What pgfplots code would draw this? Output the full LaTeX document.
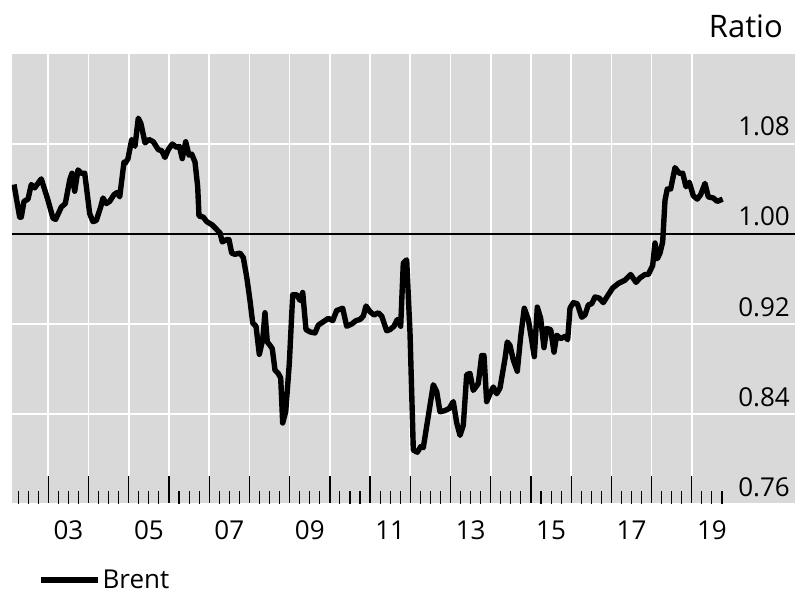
\documentclass[border=0pt]{standalone}
\usepackage{fontspec}
\setmainfont{Open Sans}
\usepackage{pgfplots}
\pgfplotsset{compat=1.18}
\definecolor{bggrey}{HTML}{D9D9D9}

\pgfplotstableread{
year     ratio
2002.147 1.044
2002.288 1.015
2002.328 1.015
2002.395 1.029
2002.495 1.031
2002.577 1.044
2002.661 1.041
2002.825 1.049
2002.992 1.030
2003.116 1.014
2003.183 1.013
2003.323 1.024
2003.422 1.027
2003.532 1.048
2003.589 1.054
2003.656 1.038
2003.738 1.057
2003.820 1.054
2003.905 1.054
2004.029 1.018
2004.111 1.011
2004.193 1.012
2004.302 1.024
2004.360 1.032
2004.442 1.027
2004.526 1.029
2004.633 1.035
2004.715 1.037
2004.775 1.033
2004.882 1.064
2004.914 1.063
2004.981 1.067
2005.073 1.084
2005.155 1.078
2005.237 1.103
2005.304 1.098
2005.404 1.081
2005.503 1.084
2005.610 1.082
2005.734 1.075
2005.819 1.074
2005.901 1.068
2005.983 1.075
2006.083 1.080
2006.192 1.077
2006.257 1.078
2006.331 1.067
2006.416 1.082
2006.498 1.070
2006.565 1.071
2006.647 1.064
2006.714 1.042
2006.746 1.016
2006.853 1.015
2006.938 1.011
2007.077 1.008
2007.186 1.004
2007.269 1.001
2007.326 0.993
2007.435 0.995
2007.492 0.995
2007.559 0.983
2007.641 0.982
2007.766 0.983
2007.848 0.979
2007.932 0.962
2008.014 0.941
2008.081 0.921
2008.164 0.918
2008.246 0.893
2008.330 0.906
2008.387 0.930
2008.445 0.904
2008.512 0.901
2008.569 0.898
2008.636 0.879
2008.718 0.876
2008.778 0.872
2008.827 0.832
2008.902 0.842
2008.992 0.885
2009.076 0.946
2009.175 0.946
2009.258 0.941
2009.325 0.948
2009.407 0.915
2009.506 0.913
2009.630 0.912
2009.713 0.919
2009.837 0.922
2009.961 0.925
2010.071 0.923
2010.170 0.932
2010.319 0.934
2010.419 0.918
2010.543 0.920
2010.650 0.923
2010.749 0.924
2010.831 0.927
2010.899 0.936
2010.998 0.931
2011.097 0.928
2011.204 0.930
2011.289 0.927
2011.413 0.914
2011.495 0.915
2011.595 0.918
2011.677 0.924
2011.761 0.918
2011.826 0.974
2011.910 0.977
2011.993 0.912
2012.075 0.808
2012.174 0.806
2012.259 0.811
2012.323 0.810
2012.447 0.838
2012.572 0.866
2012.656 0.860
2012.738 0.842
2012.862 0.843
2012.970 0.845
2013.069 0.851
2013.154 0.832
2013.236 0.821
2013.318 0.830
2013.402 0.875
2013.484 0.876
2013.566 0.861
2013.690 0.867
2013.775 0.892
2013.832 0.892
2013.899 0.851
2013.982 0.858
2014.064 0.864
2014.148 0.858
2014.230 0.863
2014.354 0.889
2014.411 0.904
2014.478 0.901
2014.561 0.888
2014.660 0.878
2014.745 0.909
2014.834 0.934
2014.934 0.924
2015.018 0.906
2015.083 0.891
2015.158 0.935
2015.242 0.925
2015.324 0.899
2015.391 0.916
2015.491 0.915
2015.573 0.895
2015.640 0.910
2015.739 0.907
2015.846 0.909
2015.913 0.906
2015.971 0.934
2016.053 0.939
2016.152 0.938
2016.262 0.926
2016.343 0.928
2016.426 0.937
2016.510 0.938
2016.592 0.944
2016.699 0.943
2016.798 0.939
2016.923 0.946
2017.032 0.952
2017.171 0.956
2017.338 0.959
2017.480 0.964
2017.612 0.957
2017.711 0.961
2017.835 0.964
2017.917 0.964
2018.027 0.972
2018.084 0.992
2018.141 0.978
2018.208 0.983
2018.275 0.993
2018.333 1.030
2018.390 1.040
2018.474 1.040
2018.581 1.059
2018.688 1.054
2018.773 1.054
2018.855 1.042
2018.937 1.046
2019.036 1.034
2019.135 1.031
2019.220 1.035
2019.327 1.045
2019.409 1.033
2019.533 1.032
2019.633 1.029
2019.767 1.031
}\brent

\begin{document}
\begin{tikzpicture}
\begin{axis}[
  name=ax,
  at={(12pt,86pt)}, anchor=south west,
  scale only axis,
  width=783pt, height=450pt,
  xmin=2002.097, xmax=2021.565,
  ymin=0.76, ymax=1.16,
  % grey plot area with the white year lines and the long year marks below them
  axis background/.style={fill=bggrey, path picture={
    \foreach \i in {0,...,16} {
      \draw[white, line width=1.7pt]
        ([xshift=36.32pt+\i*40.22pt, yshift=28pt]path picture bounding box.south west)
        -- ++(0,422pt);
      \draw[black, line width=1.3pt]
        ([xshift=36.32pt+\i*40.22pt]path picture bounding box.south west)
        -- ++(0,28pt);}}},
  axis line style={draw=none},
  % year labels sit mid-year, without a tick mark
  xtick={2003.5,2005.5,2007.5,2009.5,2011.5,2013.5,2015.5,2017.5,2019.5},
  xticklabels={03,05,07,09,11,13,15,17,19},
  major x tick style={draw=none},
  % short marks at the quarters
  minor xtick={2002.25,2002.5,2002.75,2003.25,2003.5,2003.75,2004.25,2004.5,2004.75,
    2005.25,2005.5,2005.75,2006.25,2006.5,2006.75,2007.25,2007.5,2007.75,
    2008.25,2008.5,2008.75,2009.25,2009.5,2009.75,2010.25,2010.5,2010.75,
    2011.25,2011.5,2011.75,2012.25,2012.5,2012.75,2013.25,2013.5,2013.75,
    2014.25,2014.5,2014.75,2015.25,2015.5,2015.75,2016.25,2016.5,2016.75,
    2017.25,2017.5,2017.75,2018.25,2018.5,2018.75,2019.25,2019.5,2019.75},
  minor tick length=13pt,
  minor x tick style={draw=black, line width=1.1pt},
  xtick pos=left,
  tick align=inside,
  xticklabel style={anchor=base, yshift=-35.3pt, inner sep=0pt},
  ytick={0.76,0.84,0.92,1.00,1.08},
  yticklabels={0.76,0.84,0.92,1.00,1.08},
  ytick style={draw=none},
  yticklabel pos=right,
  yticklabel style={anchor=base east, inner sep=0pt, xshift=-5pt, yshift=8pt},
  tick label style={font=\fontsize{26}{30}\selectfont},
  ymajorgrids,
  major grid style={white, line width=1.7pt},
  legend style={draw=none, fill=none, at={(axis description cs:0.0332,-0.169)},
    anchor=west, inner sep=0pt, font=\fontsize{26}{30}\selectfont},
  legend image code/.code={\draw[line width=5.4pt] (0pt,0pt) -- (48pt,0pt);
    \path (0pt,0pt) -- (57pt,0pt);},
  legend cell align=left,
]
\addplot[black, line width=1.2pt, forget plot] coordinates {(2002.097,1) (2021.565,1)};
\addplot[black, line width=5.4pt, line join=round] table[x=year, y=ratio] {\brent};
\addlegendentry{Brent}
\end{axis}
\node[anchor=base east, inner sep=0pt, font=\fontsize{31}{36}\selectfont]
  at ([xshift=-12pt, yshift=16.7pt]ax.north east) {Ratio};
\pgfresetboundingbox
\useasboundingbox (0,0) rectangle (796pt,590pt);
\end{tikzpicture}
\end{document}
